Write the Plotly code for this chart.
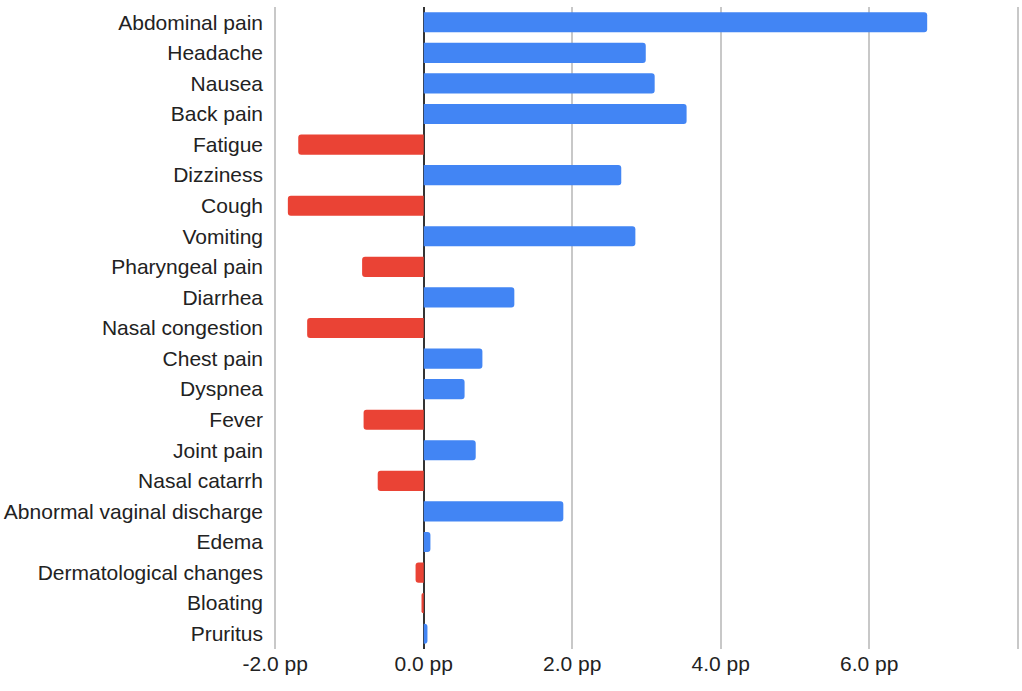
import plotly.graph_objects as go

symptoms = ["Abdominal pain", "Headache", "Nausea", "Back pain", "Fatigue", "Dizziness",
            "Cough", "Vomiting", "Pharyngeal pain", "Diarrhea", "Nasal congestion",
            "Chest pain", "Dyspnea", "Fever", "Joint pain", "Nasal catarrh",
            "Abnormal vaginal discharge", "Edema", "Dermatological changes", "Bloating", "Pruritus"]
diff_pp = [6.78, 2.99, 3.11, 3.54, -1.69, 2.66, -1.83, 2.85, -0.83, 1.22, -1.57,
           0.79, 0.55, -0.81, 0.70, -0.62, 1.88, 0.09, -0.11, -0.03, 0.05]
tick_vals = [-2, 0, 2, 4, 6, 8]
tick_text = ["-2.0 pp", "0.0 pp", "2.0 pp", "4.0 pp", "6.0 pp", ""]

colors = ["#4285F4" if v >= 0 else "#EA4335" for v in diff_pp]

fig = go.Figure(go.Bar(
    x=diff_pp, y=symptoms, orientation="h",
    marker=dict(color=colors, line=dict(width=0)),
    width=0.66,
))
fig.update_layout(
    width=1022, height=691,
    margin=dict(l=273, r=2, t=7, b=42),
    paper_bgcolor="white", plot_bgcolor="white",
    showlegend=False,
    barcornerradius=3,
    font=dict(family="Liberation Sans, Arial, sans-serif", size=21, color="#222"),
)
fig.update_xaxes(
    range=[-2.03, 8.03], tickvals=tick_vals, ticktext=tick_text,
    showgrid=True, gridcolor="#c8c8c8", gridwidth=1.5,
    zeroline=True, zerolinecolor="#333333", zerolinewidth=1.5,
    ticks="", ticklabelstandoff=0, automargin=False,
    tickfont=dict(size=21, color="#222"),
)
fig.update_yaxes(
    autorange="reversed", showgrid=False, ticks="",
    ticklabelstandoff=9, automargin=False,
    tickfont=dict(size=21, color="#222"),
)
fig.write_html("out.html", config={"displayModeBar": False},
               post_script="document.body.style.margin='0';")
